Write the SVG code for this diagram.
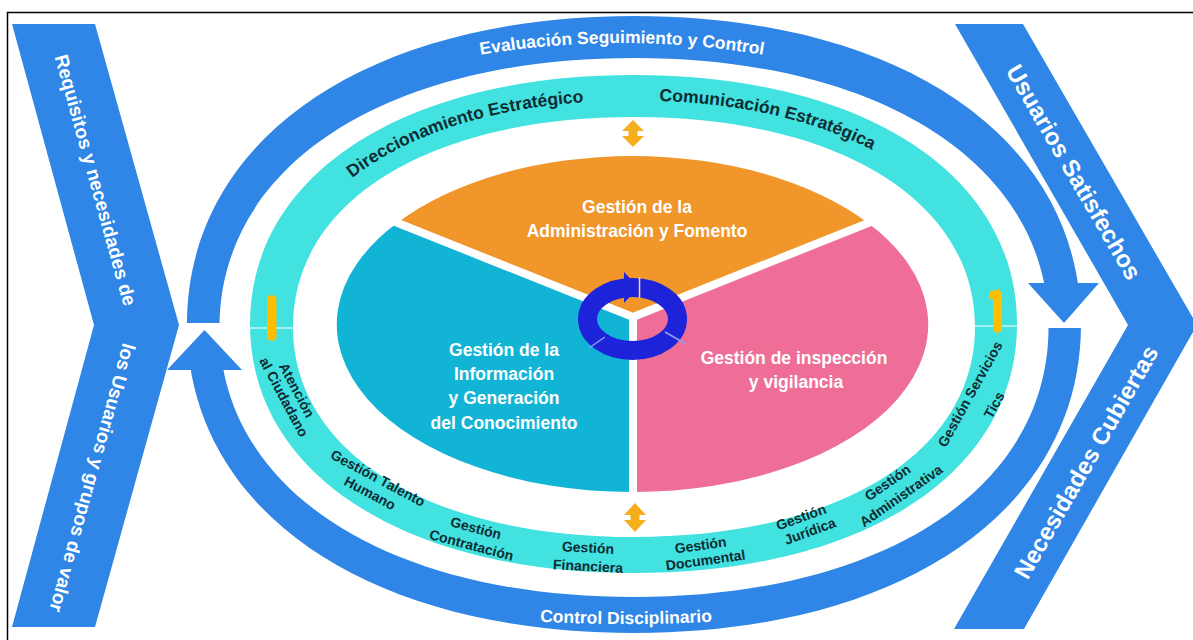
<svg xmlns="http://www.w3.org/2000/svg" width="1193" height="640" viewBox="0 0 1193 640">
<defs>
<style>
.blue{fill:#2f86e6}
.cyan{fill:#41e2df}
.t{font-family:"Liberation Sans",Arial,sans-serif;font-weight:bold}
.wt{fill:#ffffff}
.lbl{font-size:14px;fill:#0f2b33;text-anchor:middle}
.pie{font-size:17.5px;fill:#ffffff;text-anchor:middle}
.band{font-size:17.5px;fill:#0f2b33;text-anchor:middle}
.ringt{font-size:17.5px;fill:#ffffff;text-anchor:middle}
.chevL{font-size:19px;fill:#ffffff;text-anchor:middle}
.chevR{font-size:24px;fill:#ffffff;text-anchor:middle}
.gold{fill:#f5af1e}
.yel{fill:#ffbf00}
.gap{stroke:#ffffff;stroke-width:8;fill:none}
</style>
<clipPath id="gaps"><path clip-rule="evenodd" d="M0,0H1193V640H0Z M176,323H234V370H176Z M1036,283H1094V328H1036Z"/></clipPath>
<path id="pEval" d="M462,58.2 Q622,27.8 782,58.2"/>
<path id="pCtrl" d="M500,619 Q626,629 752,619"/>
<path id="pTop" d="M276,325.5 C276,190.5 419.2,100.5 634,100.5 C848.8,100.5 992,190.5 992,325.5"/>
</defs>
<rect x="0" y="0" width="1193" height="640" fill="#ffffff"/>
<rect x="7.5" y="12.5" width="1200" height="640" fill="none" stroke="#000000" stroke-width="1.5"/>

<g id="chevron-left">
<polygon class="blue" points="12,24 95,24 179,325 95,627 12,627 94,325"/>
<text class="t chevL" x="96" y="180" dy="7" transform="rotate(74.5 96 180)">Requisitos y necesidades de</text>
<text class="t chevL" x="93" y="478" dy="7" transform="rotate(105.4 93 478)">los Usuarios y grupos de valor</text>
</g>

<g id="chevron-right">
<polygon class="blue" points="955,24 1023,24 1197,325 1024,629 954,629 1128,325"/>
<text class="t chevR" x="1074" y="172" dy="8.5" transform="rotate(59.8 1074 172)">Usuarios Satisfechos</text>
<text class="t chevR" x="1086" y="462" dy="8.5" transform="rotate(-60.1 1086 462)">Necesidades Cubiertas</text>
</g>

<g id="connectors">
<g clip-path="url(#gaps)">
<path class="blue" fill-rule="evenodd" d="M187,324.5 C187,139.4 365.8,16 634,16 C902.2,16 1081,139.4 1081,324.5 C1081,509.6 902.2,633 634,633 C365.8,633 187,509.6 187,324.5 Z M219.5,327.5 C219.5,165.8 385.3,58 634,58 C882.7,58 1048.5,165.8 1048.5,327.5 C1048.5,489.2 882.7,597 634,597 C385.3,597 219.5,489.2 219.5,327.5 Z"/>
</g>
<polygon class="blue" points="1028,283 1099,283 1064,323"/>
<polygon class="blue" points="167,370 242,370 204.5,330"/>
<text class="t ringt"><textPath href="#pEval" startOffset="50%">Evaluación Seguimiento y Control</textPath></text>
<text class="t ringt"><textPath href="#pCtrl" startOffset="50%">Control Disciplinario</textPath></text>
</g>

<g id="process-ring">
<path class="cyan" fill-rule="evenodd" d="M250,324 C250,174.6 403.4,75 633.5,75 C863.6,75 1017,174.6 1017,324 C1017,473.4 863.6,573 633.5,573 C403.4,573 250,473.4 250,324 Z M293,327 C293,201 429.4,117 634,117 C838.6,117 975,201 975,327 C975,453 838.6,537 634,537 C429.4,537 293,453 293,327 Z"/>
<line x1="250" y1="328" x2="293" y2="328" stroke="#c6f6f4" stroke-width="1.5"/>
<line x1="975" y1="326" x2="1017" y2="326" stroke="#c6f6f4" stroke-width="1.5"/>
<text class="t band"><textPath href="#pTop" startOffset="31.5%">Direccionamiento Estratégico</textPath></text>
<text class="t band"><textPath href="#pTop" startOffset="64.4%">Comunicación Estratégica</textPath></text>
<rect class="yel" x="267" y="295" width="9.5" height="46" rx="4.7"/>
<path class="yel" d="M989,292 L999,289 L1002,295 L1002,330 Q997.5,336 993,330 L993,299 L989,299 Z"/>
<path class="gold" d="M633,120 L644,131 L637.5,131 L637.5,136 L644,136 L633,147 L622,136 L628.5,136 L628.5,131 L622,131 Z"/>
<path class="gold" d="M635,503 L646,515 L639.5,515 L639.5,520 L646,520 L635,532 L624,520 L630.5,520 L630.5,515 L624,515 Z"/>
</g>

<g id="lbl-atencion" class="t lbl">
<text x="297" y="390" dy="5" transform="rotate(62 297 390)">Atención</text>
<text x="284" y="397" dy="5" transform="rotate(62 284 397)">al Ciudadano</text>
</g>
<g id="lbl-talento" class="t lbl">
<text x="378" y="478" dy="5" transform="rotate(28 378 478)">Gestión Talento</text>
<text x="370" y="493" dy="5" transform="rotate(28 370 493)">Humano</text>
</g>
<g id="lbl-contratacion" class="t lbl">
<text x="476" y="528" dy="5" transform="rotate(15 476 528)">Gestión</text>
<text x="471.5" y="545" dy="5" transform="rotate(15 471.5 545)">Contratación</text>
</g>
<g id="lbl-financiera" class="t lbl">
<text x="588" y="547.5" dy="5" transform="rotate(3 588 547.5)">Gestión</text>
<text x="588" y="566" dy="5" transform="rotate(3 588 566)">Financiera</text>
</g>
<g id="lbl-documental" class="t lbl">
<text x="700.5" y="545" dy="5" transform="rotate(-8 700.5 545)">Gestión</text>
<text x="705.5" y="560" dy="5" transform="rotate(-8 705.5 560)">Documental</text>
</g>
<g id="lbl-juridica" class="t lbl">
<text x="801" y="517" dy="5" transform="rotate(-20 801 517)">Gestión</text>
<text x="810" y="531" dy="5" transform="rotate(-20 810 531)">Jurídica</text>
</g>
<g id="lbl-administrativa" class="t lbl">
<text x="887.5" y="482.5" dy="5" transform="rotate(-35 887.5 482.5)">Gestión</text>
<text x="901" y="495.5" dy="5" transform="rotate(-35 901 495.5)">Administrativa</text>
</g>
<g id="lbl-tics" class="t lbl">
<text x="970" y="394" dy="5" transform="rotate(-61 970 394)">Gestión Servicios</text>
<text x="994" y="405" dy="5" transform="rotate(-61 994 405)">Tics</text>
</g>

<g id="core">
<g id="sector-fomento">
<path fill="#f0962a" d="M633,317 L397,223 A294.5,167.5 0 0 1 868,223 Z"/>
<text class="t pie" x="637" y="213">Gestión de la</text>
<text class="t pie" x="637" y="237">Administración y Fomento</text>
</g>
<g id="sector-inspeccion">
<path fill="#ee6e98" d="M633,317 L868,223 A294.5,167.5 0 0 1 632.5,492 Z"/>
<text class="t pie" x="794" y="364">Gestión de inspección</text>
<text class="t pie" x="796" y="388">y vigilancia</text>
</g>
<g id="sector-informacion">
<path fill="#12b4d6" d="M633,317 L632.5,492 A294.5,167.5 0 0 1 397,223 Z"/>
<text class="t pie" x="504" y="356">Gestión de la</text>
<text class="t pie" x="504" y="380">Información</text>
<text class="t pie" x="504" y="404">y Generación</text>
<text class="t pie" x="504" y="429">del Conocimiento</text>
</g>
<path class="gap" d="M633,317 L633,500 M633,317 L389,219.5 M633,317 L877,219.5"/>
<g id="cycle">
<ellipse cx="632.5" cy="319" rx="45" ry="31.5" fill="none" stroke="#1c23d9" stroke-width="19"/>
<line x1="639.5" y1="277" x2="639.5" y2="298" stroke="#f6d2a6" stroke-width="1.5"/>
<polygon points="624,272 638.5,287.5 624,303" fill="#1c23d9"/>
<line x1="665" y1="332" x2="686" y2="344" stroke="#8fa0f0" stroke-width="1.5"/>
<line x1="605" y1="337" x2="589" y2="348" stroke="#8fa0f0" stroke-width="1.5"/>
</g>
</g>
</svg>
